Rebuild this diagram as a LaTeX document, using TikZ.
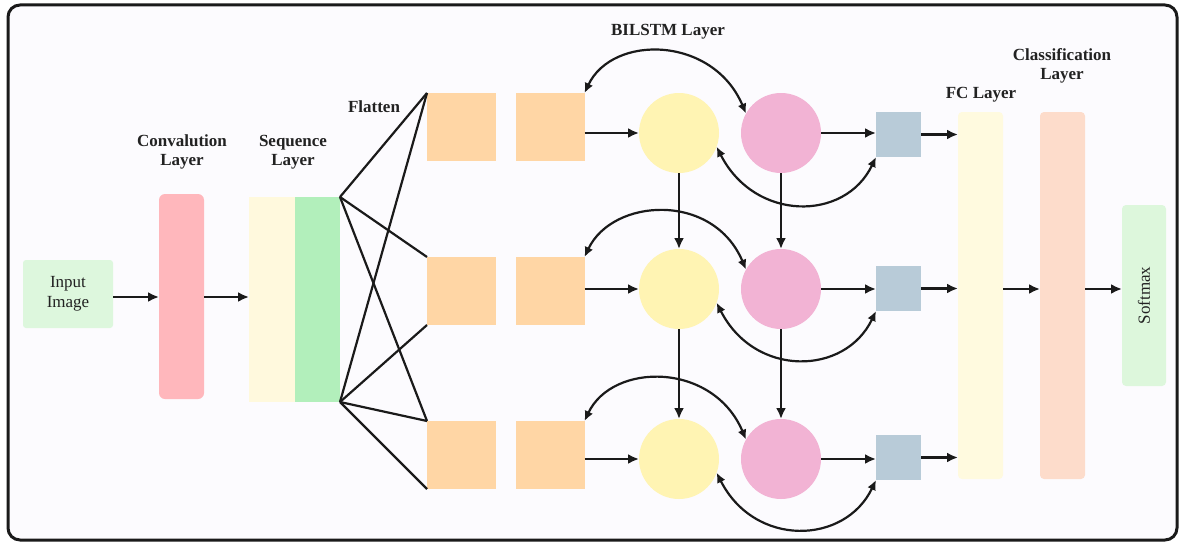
\documentclass[tikz,border=0pt]{standalone}
\usepackage{fontspec}
\setmainfont{Liberation Serif}
\usetikzlibrary{arrows.meta}
\definecolor{framec}{HTML}{1A1A1A}
\definecolor{bgc}{HTML}{FCFBFE}
\definecolor{inputc}{HTML}{DDF7DD}
\definecolor{convc}{HTML}{FFB7BC}
\definecolor{seqa}{HTML}{FFF9DD}
\definecolor{seqb}{HTML}{B2EFBB}
\definecolor{orangec}{HTML}{FFD6A5}
\definecolor{yellowc}{HTML}{FFF4B3}
\definecolor{pinkc}{HTML}{F2B3D4}
\definecolor{bluec}{HTML}{B8CBD8}
\definecolor{fcc}{HTML}{FFFADF}
\definecolor{clsc}{HTML}{FDDCCB}
\definecolor{softc}{HTML}{DDF7DC}
\definecolor{inkc}{HTML}{222222}
\begin{document}
\begin{tikzpicture}[x=1pt,y=-1pt,
  every node/.style={inner sep=0pt, outer sep=0pt, text=inkc,
    font=\fontsize{17}{19}\selectfont},
  title/.style={font=\fontsize{17}{19}\selectfont\bfseries, align=center},
  sqbox/.style={fill=orangec, minimum width=69pt, minimum height=68pt},
  cellA/.style={circle, fill=yellowc, minimum size=80pt},
  cellB/.style={circle, fill=pinkc, minimum size=80pt},
  outbox/.style={fill=bluec, minimum width=45pt, minimum height=45pt},
  arr/.style={draw=framec, line width=2.4pt, -{Latex[length=11pt,width=10pt]}},
  dbl/.style={draw=framec, line width=2.2pt,
    {Latex[length=10pt,width=9pt]}-{Latex[length=10pt,width=9pt]}},
  flat/.style={draw=framec, line width=2.2pt}]
\useasboundingbox (0,0) rectangle (1181,543);
\fill[white] (0,0) rectangle (1181,543);
\draw[framec, line width=3pt, rounded corners=12pt, fill=bgc] (8,5) rectangle (1177,540);

% input, convolution and sequence blocks
\node[fill=inputc, rounded corners=3pt, minimum width=90pt, minimum height=68pt,
  align=center, font=\fontsize{17}{20}\selectfont] (in) at (68,294) {Input\\Image};
\node[fill=convc, rounded corners=6pt, minimum width=45pt, minimum height=205pt] (conv) at (181.5,296.5) {};
\node[fill=seqa, minimum width=46pt, minimum height=205pt] (seqA) at (272,299.5) {};
\node[fill=seqb, minimum width=45pt, minimum height=205pt] (seqB) at (317.5,299.5) {};

% titles
\node[title] (tconv) at (182,152) {Convalution\\Layer};
\node[title] (tseq) at (293,152) {Sequence\\Layer};
\node[title] (tflat) at (374,107) {Flatten};
\node[title] (tbil) at (668,32) {BILSTM Layer};
\node[title] (tfc) at (981,95) {FC Layer};
\node[title] (tcls) at (1062,66) {Classification\\Layer};

% fully connected and classification layers, softmax
\node[fill=fcc, rounded corners=4pt, minimum width=45pt, minimum height=367pt] (fc) at (980.5,295.5) {};
\node[fill=clsc, rounded corners=4pt, minimum width=45pt, minimum height=367pt] (cls) at (1062.5,295.5) {};
\node[fill=softc, rounded corners=4pt, minimum width=44pt, minimum height=181pt] (soft) at (1144,295.5) {};
\node[rotate=90] (softlbl) at (soft) {Softmax};

% BiLSTM rows
\foreach \r/\yo/\yc/\yb in {1/127/133/134.5, 2/291/289/288.5, 3/455/459/457.5}{
  \node[sqbox] (oa\r) at (461.5,\yo) {};
  \node[sqbox] (ob\r) at (550,\yo) {};
  \node[cellA] (ya\r) at (679,\yc) {};
  \node[cellB] (pk\r) at (781,\yc) {};
  \node[outbox] (bl\r) at (898.5,\yb) {};
}

% flatten connections
\draw[flat] (seqB.north east) -- (oa1.north west);
\draw[flat] (seqB.north east) -- (oa2.north west);
\draw[flat] (seqB.north east) -- (oa3.north west);
\draw[flat] (seqB.south east) -- (oa1.north west);
\draw[flat] (seqB.south east) -- (oa2.south west);
\draw[flat] (seqB.south east) -- (oa3.north west);
\draw[flat] (seqB.south east) -- (oa3.south west);

% main flow
\draw[arr] (in.east |- 0,297) -- (conv.west |- 0,297);
\draw[arr] (conv.east |- 0,297) -- (seqA.west |- 0,297);

\foreach \r in {1,2,3}{
  \draw[arr] (ob\r.east |- ya\r) -- (ya\r);
  \draw[arr] (pk\r.east) -- (pk\r.east -| bl\r.west);
  \draw[arr] (bl\r.east) -- (bl\r.east -| fc.west);
  \draw[dbl] (ob\r.north east) .. controls +(28,-59) and +(-33,-78) .. (pk\r.151);
  \draw[dbl] (ya\r.-20) .. controls +(38,75) and +(-31,65) .. (bl\r.south west);
}
\draw[arr] (ya1) -- (ya2);
\draw[arr] (ya2) -- (ya3);
\draw[arr] (pk1) -- (pk2);
\draw[arr] (pk2) -- (pk3);

\coordinate (mid) at (0,289);
\draw[arr] (fc.east |- mid) -- (cls.west |- mid);
\draw[arr] (cls.east |- mid) -- (soft.west |- mid);
\end{tikzpicture}
\end{document}
